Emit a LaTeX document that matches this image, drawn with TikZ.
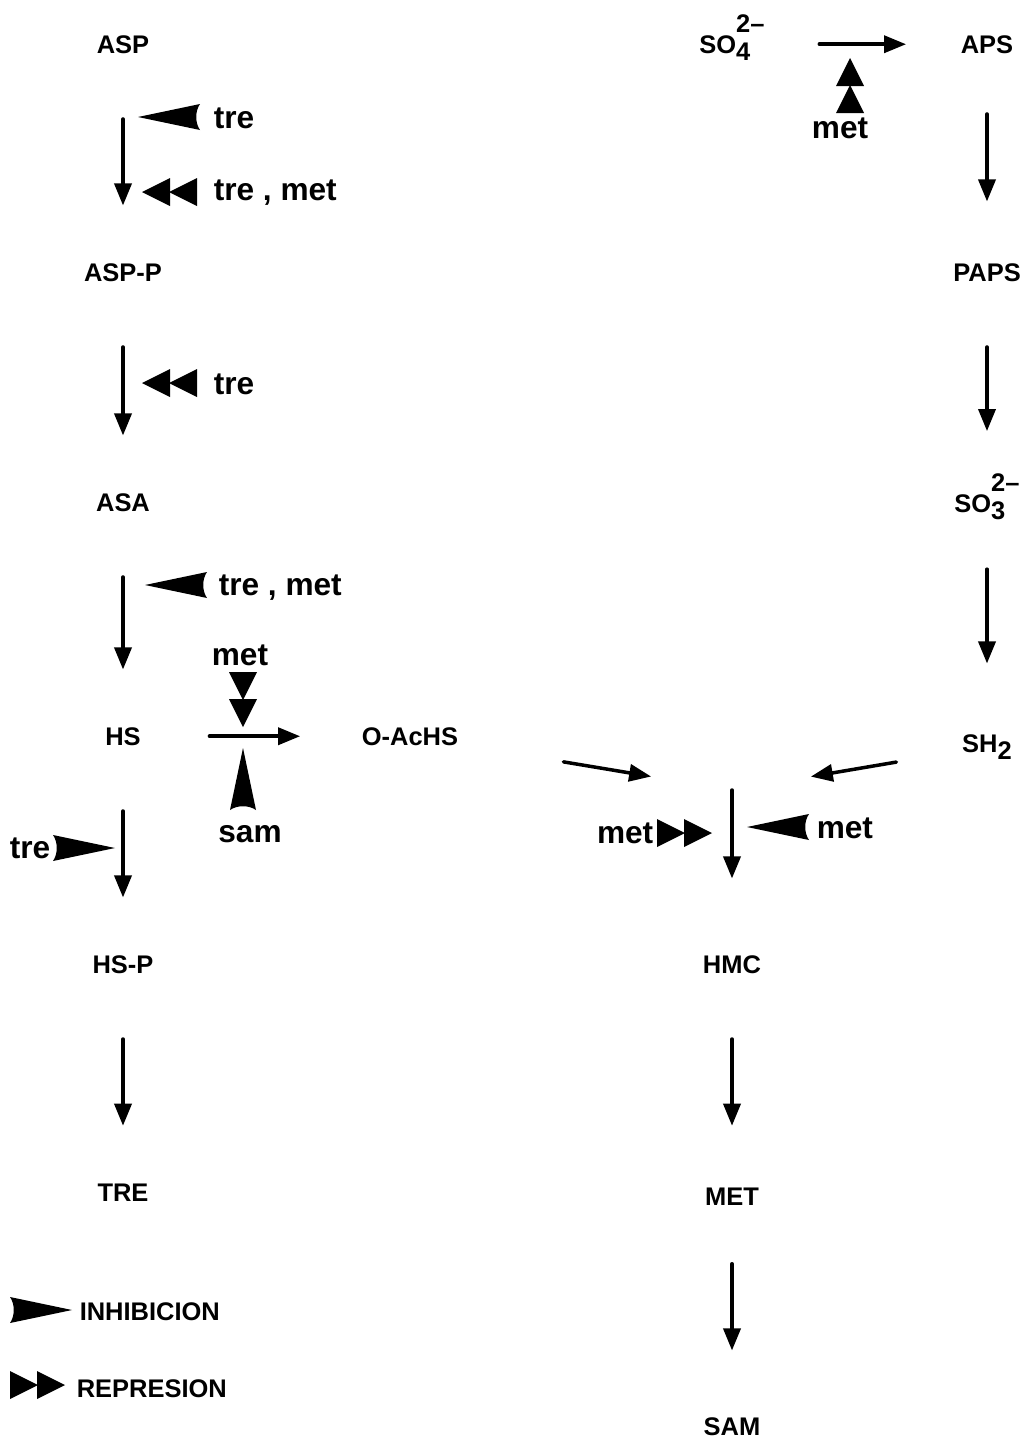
\documentclass[tikz,border=0pt]{standalone}
\usepackage{fontspec}
\setmainfont{Liberation Sans}
\usetikzlibrary{arrows.meta}
\tikzstyle{every path}=[line width=2pt,line cap=round,line join=round]
\tikzstyle{cmp}=[font=\fontsize{14.5}{16}\selectfont\bfseries,inner sep=0pt,anchor=base]
\tikzstyle{eff}=[font=\fontsize{18}{22}\selectfont\bfseries,inner sep=0pt,anchor=base west]
\tikzstyle{rx}=[-{Triangle[length=0.44cm,width=0.34cm]},shorten <=1.28cm,shorten >=1.12cm]
\tikzset{
  inhib/.pic={\fill (0,0) -- (62,13) .. controls (57,6) and (57,-6) .. (62,-13) -- cycle;},
  repr/.pic={\fill (0,0) -- (28,14) -- (28,-14) -- cycle;
             \fill (27,0) -- (55,14) -- (55,-14) -- cycle;}
}
\begin{document}
\begin{tikzpicture}[x=0.02cm,y=0.02cm]
\useasboundingbox (0,0) rectangle (1031,-1441);
%левая цепочка
\node[cmp] (asp) at (123,-53) {ASP};
\node[cmp] (aspp) at (123,-281) {ASP-P};
\node[cmp] (asa) at (123,-511) {ASA};
\node[cmp] (hs) at (123,-745) {HS};
\node[cmp] (oachs) at (410,-745) {O-AcHS};
\node[cmp] (hsp) at (123,-973) {HS-P};
\node[cmp] (tre) at (123,-1201) {TRE};
%правая цепочка
\node[cmp] (so4) at (732,-53) {SO\rlap{\raisebox{-0.28em}{4}}\raisebox{0.8em}{2\textendash}};
\node[cmp] (aps) at (987,-53) {APS};
\node[cmp] (paps) at (987,-281) {PAPS};
\node[cmp] (so3) at (987,-512) {SO\rlap{\raisebox{-0.28em}{3}}\raisebox{0.8em}{2\textendash}};
\node[cmp] (sh2) at (987,-752) {SH\raisebox{-0.28em}{2}};
\node[cmp] (hmc) at (732,-973) {HMC};
\node[cmp] (met) at (732,-1205) {MET};
\node[cmp] (sam) at (732,-1435) {SAM};
\coordinate (join) at (732,-790);
%стрелки
\draw[rx] (asp) -- (aspp);
\draw[rx] (aspp) -- (asa);
\draw[rx] (asa) -- (hs);
\draw[rx] (hs) -- (hsp);
\draw[rx] (hsp) -- (tre);
\draw[rx,shorten <=1.34cm,shorten >=1.2cm] (hs) -- (oachs);
\draw[rx,shorten <=1.06cm,shorten >=1.06cm] (so4.east |- aps) -- (aps);
\draw[rx,shorten <=1.18cm,shorten >=1.2cm] (aps) -- (paps);
\draw[rx,shorten >=0.82cm] (paps) -- (so3);
\draw[rx,shorten <=0.96cm,shorten >=1.38cm] (so3) -- (sh2);
\draw[rx,shorten <=2.1cm,shorten >=1.64cm] (oachs) -- (join);
\draw[rx,shorten <=1.3cm,shorten >=1.6cm] (sh2) -- (join);
\draw[rx,shorten <=0pt,shorten >=1.5cm] (join) -- (hmc);
\draw[rx,shorten >=1.2cm] (hmc) -- (met);
\draw[rx,shorten <=1.14cm,shorten >=1.3cm] (met) -- (sam);
%эффекторы
\node[eff] (t1) at (212,-128) {tre};
\node[eff] (t2) at (212,-200) {tre , met};
\node[eff] (t3) at (212,-394) {tre};
\node[eff] (t4) at (217,-595) {tre , met};
\node[eff,anchor=base] (m1) at (240,-665) {met};
\node[eff,anchor=base] (s1) at (250,-842) {sam};
\node[eff,anchor=base east] (t5) at (52,-858) {tre};
\node[eff,anchor=base] (m2) at (840,-138) {met};
\node[eff,anchor=base east] (m3) at (655,-843) {met};
\node[eff] (m4) at (815,-838) {met};
\pic at (138,-117) {inhib};
\pic at (142,-192) {repr};
\pic at (142,-383) {repr};
\pic at (145,-585) {inhib};
\pic[rotate=90] at (243,-727) {repr};
\pic[rotate=-90] at (243,-748) {inhib};
\pic[rotate=180] at (115,-848) {inhib};
\pic[rotate=-90] at (850,-58) {repr};
\pic[rotate=180] at (712,-833) {repr};
\pic at (747,-827) {inhib};
%легенда
\pic[rotate=180] at (72,-1310) {inhib};
\pic[rotate=180] at (65,-1385) {repr};
\node[cmp,anchor=base west] (inh) at (78,-1320) {INHIBICION};
\node[cmp,anchor=base west] (rep) at (75,-1397) {REPRESION};
\end{tikzpicture}
\end{document}
